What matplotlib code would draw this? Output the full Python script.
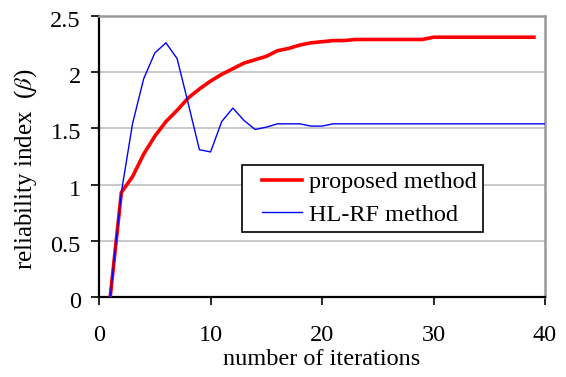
import matplotlib
matplotlib.use("Agg")
import matplotlib.pyplot as plt
import matplotlib.transforms as mtransforms
from matplotlib.lines import Line2D
from matplotlib.legend_handler import HandlerLine2D

# --- data ---
iters_proposed = list(range(1, 40))
beta_proposed = [0.0, 0.93, 1.07, 1.27, 1.43, 1.56, 1.66, 1.77, 1.85, 1.92,
                 1.98, 2.03, 2.08, 2.11, 2.14, 2.19, 2.21, 2.24, 2.26, 2.27,
                 2.28, 2.28, 2.29, 2.29, 2.29, 2.29, 2.29, 2.29, 2.29, 2.31,
                 2.31, 2.31, 2.31, 2.31, 2.31, 2.31, 2.31, 2.31, 2.31]

iters_hlrf = list(range(1, 41))
beta_hlrf = [0.0, 0.93, 1.54, 1.94, 2.17, 2.26, 2.12, 1.72, 1.31, 1.29,
             1.56, 1.68, 1.57, 1.49, 1.51, 1.54, 1.54, 1.54, 1.52, 1.52,
             1.54, 1.54, 1.54, 1.54, 1.54, 1.54, 1.54, 1.54, 1.54, 1.54,
             1.54, 1.54, 1.54, 1.54, 1.54, 1.54, 1.54, 1.54, 1.54, 1.54]

x_ticks = [0, 10, 20, 30, 40]
y_ticks = [0, 0.5, 1, 1.5, 2, 2.5]
y_tick_labels = ["0", "0.5", "1", "1.5", "2", "2.5"]

FS = 17.5

plt.rcParams['font.family'] = ['Liberation Serif', 'DejaVu Serif']
plt.rcParams['mathtext.fontset'] = 'stix'

fig = plt.figure(figsize=(5.66, 3.77), dpi=100)
ax = fig.add_axes([0.175, 0.212, 0.788, 0.746])

ax.plot(iters_proposed, beta_proposed, color='#ff0000', linewidth=2.6,
        label='proposed method', zorder=3)
ax.plot(iters_hlrf, beta_hlrf, color='#0000ff', linewidth=1.0,
        label='HL-RF method', zorder=3)

ax.set_xlim(0, 40)
ax.set_ylim(0, 2.5)
ax.set_xticks(x_ticks)
ax.set_yticks(y_ticks)
ax.set_yticklabels(y_tick_labels)

ax.grid(axis='y', color='#c0c0c0', linewidth=1.2)
ax.set_axisbelow(True)

for side in ['left', 'bottom']:
    ax.spines[side].set_color('black')
    ax.spines[side].set_linewidth(1.6)
for side in ['top', 'right']:
    ax.spines[side].set_color('#999999')
    ax.spines[side].set_linewidth(1.8)

ax.tick_params(direction='out', length=6, width=1.2, labelsize=FS)
ax.tick_params(axis='x', pad=14)
ax.tick_params(axis='y', pad=7)

# y tick labels sit a few pixels below their ticks in the original
shift = mtransforms.ScaledTranslation(0, -0.03, fig.dpi_scale_trans)
for lbl in ax.get_yticklabels():
    lbl.set_transform(lbl.get_transform() + shift)

ax.set_xlabel('number of iterations', fontsize=FS)
ax.xaxis.set_label_coords(0.5, -0.185)
ax.set_ylabel(r'reliability index  ($\beta$)', fontsize=FS + 0.5)
ax.yaxis.set_label_coords(-0.135, 0.455)

leg = ax.legend(loc='upper left', bbox_to_anchor=(0.3206, 0.4698),
                borderaxespad=0, fontsize=FS, frameon=True, fancybox=False,
                framealpha=1, edgecolor='black', handlelength=2.2,
                handletextpad=0.3, borderpad=0.25, labelspacing=0.45,
                handler_map={Line2D: HandlerLine2D(xpad=0.58)})
leg.get_frame().set_linewidth(1.2)

fig.savefig('out.png', dpi=100)
